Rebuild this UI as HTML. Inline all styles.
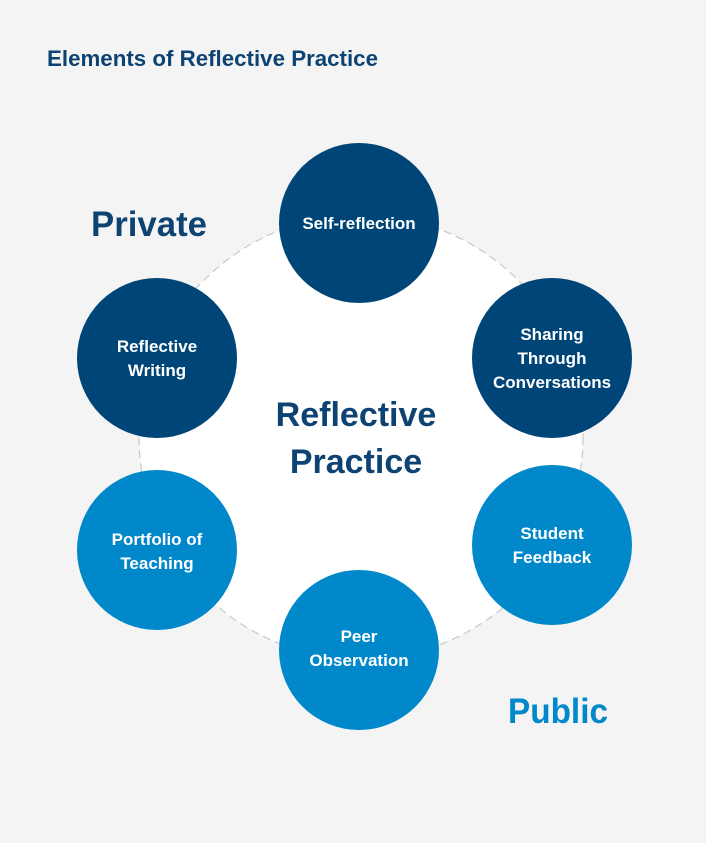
<!DOCTYPE html>
<html><head><meta charset="utf-8"><style>
html,body{margin:0;padding:0;width:706px;height:843px;background:#f4f4f4;overflow:hidden}
</style></head><body>
<svg width="706" height="843" xmlns="http://www.w3.org/2000/svg" style="display:block;font-family:'Liberation Sans',sans-serif;font-weight:bold">
<rect width="706" height="843" fill="#f4f4f4"/>
<text x="47" y="66" font-size="22" fill="#0d4372" textLength="331" lengthAdjust="spacingAndGlyphs">Elements of Reflective Practice</text>
<circle cx="361" cy="437" r="222" fill="#fff" stroke="#c8c8c8" stroke-width="1.2" stroke-dasharray="8,5"/>
<text x="91" y="236" font-size="35" fill="#0d4372" textLength="116" lengthAdjust="spacingAndGlyphs">Private</text>
<text x="508" y="723" font-size="35" fill="#0088cb" textLength="100" lengthAdjust="spacingAndGlyphs">Public</text>
<text x="356" y="426" font-size="34" fill="#0d4372" text-anchor="middle">Reflective</text>
<text x="356" y="473" font-size="34" fill="#0d4372" text-anchor="middle">Practice</text>
<g fill="#004577"><circle cx="359" cy="223" r="80"/><circle cx="552" cy="358" r="80"/><circle cx="157" cy="358" r="80"/></g>
<g fill="#0088cb"><circle cx="552" cy="545" r="80"/><circle cx="359" cy="650" r="80"/><circle cx="157" cy="550" r="80"/></g>
<g fill="#fff" font-size="17" text-anchor="middle">
<text x="359" y="229">Self-reflection</text>
<text x="552" y="340">Sharing</text><text x="552" y="364">Through</text><text x="552" y="388">Conversations</text>
<text x="157" y="352">Reflective</text><text x="157" y="376">Writing</text>
<text x="552" y="539">Student</text><text x="552" y="563">Feedback</text>
<text x="359" y="642">Peer</text><text x="359" y="666">Observation</text>
<text x="157" y="545">Portfolio of</text><text x="157" y="569">Teaching</text>
</g>
</svg>
</body></html>
